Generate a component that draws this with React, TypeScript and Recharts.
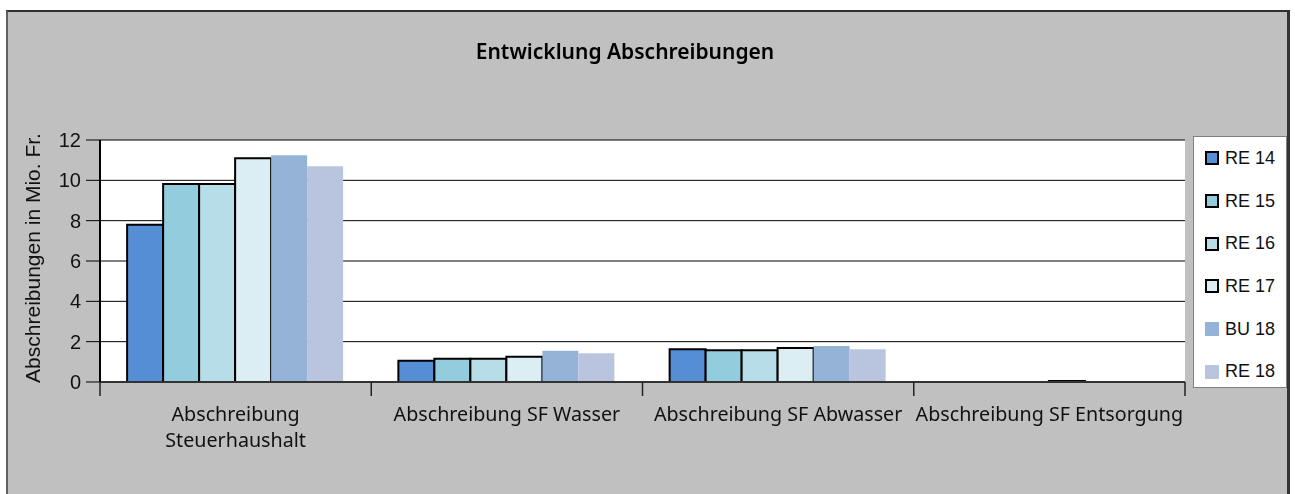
import { BarChart, Bar, XAxis, YAxis, CartesianGrid } from 'recharts'

const categories = [
  'Abschreibung\nSteuerhaushalt',
  'Abschreibung SF Wasser',
  'Abschreibung SF Abwasser',
  'Abschreibung SF Entsorgung',
]

const re14 = [7.8, 1.05, 1.63, 0]
const re15 = [9.82, 1.15, 1.58, 0]
const re16 = [9.82, 1.15, 1.58, 0]
const re17 = [11.1, 1.25, 1.68, 0.05]
const bu18 = [11.25, 1.55, 1.78, 0]
const re18 = [10.7, 1.43, 1.63, 0]

const yTicks = [0, 2, 4, 6, 8, 10, 12]

const SERIES = [
  { key: 're14', name: 'RE 14', values: re14, fill: '#558ed5', stroke: '#000' },
  { key: 're15', name: 'RE 15', values: re15, fill: '#93cddd', stroke: '#000' },
  { key: 're16', name: 'RE 16', values: re16, fill: '#b7dee8', stroke: '#000' },
  { key: 're17', name: 'RE 17', values: re17, fill: '#dbeef4', stroke: '#000' },
  { key: 'bu18', name: 'BU 18', values: bu18, fill: '#95b3d7', stroke: 'none' },
  { key: 're18', name: 'RE 18', values: re18, fill: '#b9c5df', stroke: 'none' },
]

const data = categories.map((name, i) => {
  const row: Record<string, string | number> = { name }
  SERIES.forEach(s => { row[s.key] = s.values[i] })
  return row
})

const W = 1295
const H = 494
const LABEL_FONT = '"Noto Sans", sans-serif'
const ARIAL = '"Liberation Sans", Arial, sans-serif'

function CategoryTick(props: any) {
  const { x, y, payload, index } = props
  const half = payload?.offset ?? 135.6
  const lines = String(payload.value).split('\n')
  return (
    <g>
      <line x1={x - half} x2={x - half} y1={y} y2={y + 14} stroke="#222" strokeWidth={1.5} />
      {index === categories.length - 1 && (
        <line x1={x + half} x2={x + half} y1={y} y2={y + 14} stroke="#222" strokeWidth={1.5} />
      )}
      {lines.map((l, i) => (
        <text key={i} x={x} y={y + 39 + i * 26} textAnchor="middle" fill="#111"
          style={{ fontFamily: LABEL_FONT, fontSize: 19.7 }}>
          {l}
        </text>
      ))}
    </g>
  )
}

function LegendBox() {
  return (
    <div style={{
      position: 'absolute', left: 1193, top: 136, width: 94, height: 252, background: '#fff',
      border: '1px solid #808080', boxSizing: 'border-box',
    }}>
      {SERIES.map(s => (
        <div key={s.key} style={{ display: 'flex', alignItems: 'center', height: 42.7, paddingLeft: 11 }}>
          <span style={{
            display: 'inline-block', width: 14, height: 14, background: s.fill,
            border: s.stroke === 'none' ? '1px solid ' + s.fill : '2px solid #000',
            boxSizing: 'border-box', marginRight: 6,
          }} />
          <span style={{ fontFamily: ARIAL, fontSize: 18, color: '#111' }}>{s.name}</span>
        </div>
      ))}
    </div>
  )
}

export default function App() {
  return (
    <div style={{ position: 'fixed', left: 0, top: 0, width: W, height: H, overflow: 'hidden' }}>
      <div style={{
        position: 'absolute', left: 6, top: 10, width: 1279, height: 500, background: '#c0c0c0',
        borderLeft: '2px solid #606060', borderTop: '2px solid #303030', borderRight: '3px solid #333',
      }} />
      <div style={{
        position: 'absolute', left: 0, top: 37, width: 1250, textAlign: 'center',
        fontFamily: LABEL_FONT, fontWeight: 600, fontSize: 21, color: '#000',
      }}>
        Entwicklung Abschreibungen
      </div>
      <div style={{
        position: 'absolute', left: 33, top: 258, transform: 'translate(-50%, -50%) rotate(-90deg)',
        whiteSpace: 'nowrap', fontFamily: ARIAL, fontSize: 21, color: '#111',
      }}>
        Abschreibungen in Mio. Fr.
      </div>
      <div style={{ position: 'absolute', left: 0, top: 0 }}>
        <BarChart width={W} height={H} data={data}
          margin={{ top: 140, right: 110, bottom: 42, left: 40 }}
          barCategoryGap="10%" barGap={0}>
          <CartesianGrid vertical={false} stroke="#000" fill="#fff" />
          <XAxis dataKey="name" interval={0} height={70} tickSize={0} tickMargin={0}
            axisLine={{ stroke: '#333', strokeWidth: 2 }} tickLine={false}
            tick={<CategoryTick />} />
          <YAxis domain={[0, 12]} ticks={yTicks} width={60} tickSize={14} tickMargin={5}
            axisLine={{ stroke: '#000', strokeWidth: 2 }} tickLine={{ stroke: '#000' }}
            tick={{ fill: '#111', fontFamily: ARIAL, fontSize: 20 }} />
          {SERIES.map(s => (
            <Bar key={s.key} dataKey={s.key} name={s.name} fill={s.fill}
              stroke={s.stroke} strokeWidth={s.stroke === 'none' ? 0 : 2}
              isAnimationActive={false} />
          ))}
        </BarChart>
      </div>
      <LegendBox />
    </div>
  )
}
